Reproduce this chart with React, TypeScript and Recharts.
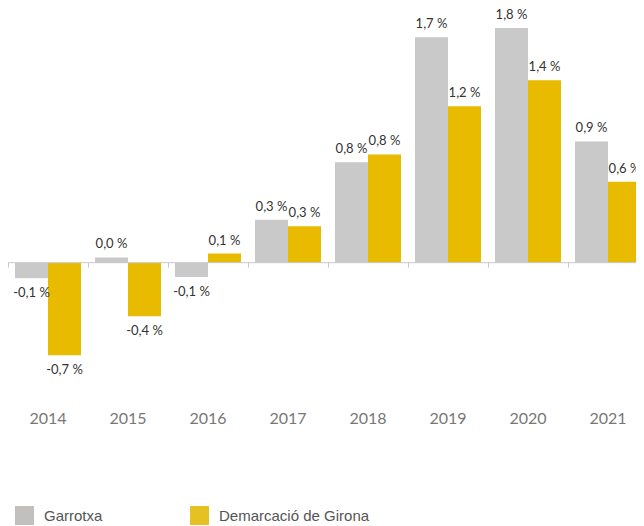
import React from 'react';
import { BarChart, Bar, XAxis, YAxis, ReferenceLine, LabelList, Legend } from 'recharts';

const years = ['2014', '2015', '2016', '2017', '2018', '2019', '2020', '2021'];
const garrotxa = [-0.12, 0.04, -0.11, 0.33, 0.77, 1.73, 1.8, 0.93];
const girona = [-0.71, -0.41, 0.07, 0.28, 0.83, 1.2, 1.4, 0.62];
const seriesNames = ['Garrotxa', 'Demarcació de Girona'];

const data = years.map((y, i) => ({ year: y, garrotxa: garrotxa[i], girona: girona[i] }));

const GREY = '#c9c9c9';
const YELLOW = '#e8bb00';
const LEGEND_COLORS = ['#c2bfbf', '#e5c222'];

const fmt = (v: number) => v.toFixed(1).replace('.', ',') + ' %';

const renderLabel = (props: any) => {
  const x = Number(props.x);
  const y = Number(props.y);
  const width = Number(props.width);
  const height = Number(props.height);
  const value = Number(props.value);
  const top = Math.min(y, y + height);
  const bottom = Math.max(y, y + height);
  const ty = value >= 0 ? top - 9 : bottom + 19;
  return (
    <text x={x + width / 2} y={ty} textAnchor="middle" fontSize={13} fill="#333" fontFamily="Lato, sans-serif">
      {fmt(value)}
    </text>
  );
};

const ZeroLine = (props: any) => {
  const x1 = Number(props.x1);
  const x2 = Number(props.x2);
  const y = Number(props.y1);
  const n = years.length;
  const step = (x2 - x1) / n;
  const ticks = [];
  for (let i = 0; i <= n; i++) {
    const tx = Math.round(x1 + i * step) + 0.5;
    ticks.push(<line key={i} x1={tx} x2={tx} y1={y} y2={y + 5} stroke="#c8c8c8" strokeWidth={1} />);
  }
  return (
    <g>
      <line x1={x1} x2={x2} y1={y} y2={y} stroke="#c8c8c8" strokeWidth={1} />
      {ticks}
    </g>
  );
};

const YearTick = (props: any) => {
  const { x, y, payload } = props;
  return (
    <text x={x} y={Number(y) + 36} textAnchor="middle" fontSize={16} fill="#777" fontFamily="Lato, sans-serif">
      {payload.value}
    </text>
  );
};

const LegendContent = () => (
  <div style={{ position: 'relative', height: 20, fontFamily: '"Liberation Sans", Arial, sans-serif', fontSize: 15, color: '#555' }}>
    {seriesNames.map((name, i) => (
      <div key={name} style={{ position: 'absolute', left: i === 0 ? 7 : 182, top: 0, display: 'flex', alignItems: 'center' }}>
        <span style={{ display: 'inline-block', width: 19, height: 19, background: LEGEND_COLORS[i], marginRight: 10 }} />
        <span>{name}</span>
      </div>
    ))}
  </div>
);

export default function App() {
  return (
    <div style={{ width: 636, height: 518, overflow: 'hidden' }}>
      <style>{'html, body { overflow: hidden; }'}</style>
      <BarChart
        width={640}
        height={518}
        data={data}
        margin={{ top: 7, right: 0, left: 0, bottom: 96 }}
        barCategoryGap={7}
        barGap={0}
      >
        <XAxis dataKey="year" axisLine={false} tickLine={false} tick={<YearTick />} height={30} interval={0} />
        <YAxis hide domain={[-0.9, 1.9]} allowDataOverflow />
        <ReferenceLine y={0} shape={<ZeroLine />} />
        <Bar dataKey="garrotxa" fill={GREY} isAnimationActive={false}>
          <LabelList dataKey="garrotxa" content={renderLabel} />
        </Bar>
        <Bar dataKey="girona" fill={YELLOW} isAnimationActive={false}>
          <LabelList dataKey="girona" content={renderLabel} />
        </Bar>
        <Legend verticalAlign="bottom" height={20} content={<LegendContent />} wrapperStyle={{ left: 0, top: 498, width: 636 }} />
      </BarChart>
    </div>
  );
}
